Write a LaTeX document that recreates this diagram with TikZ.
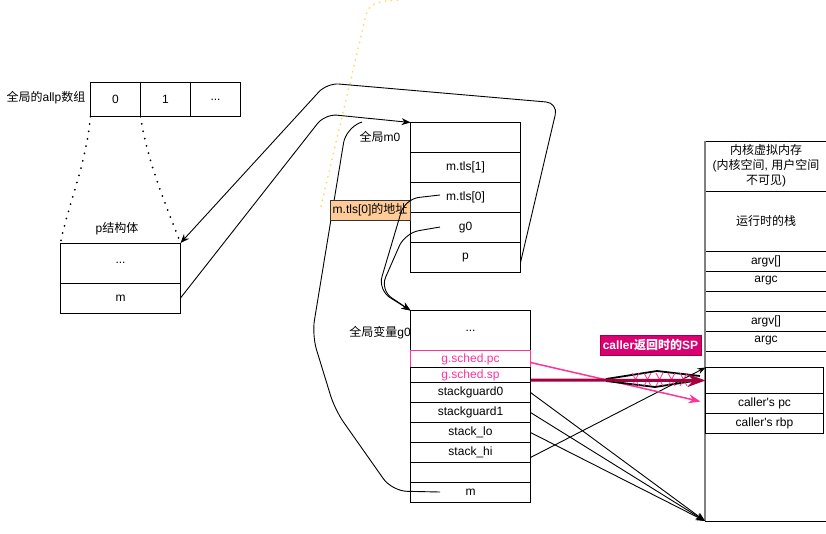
\documentclass[tikz,border=0pt]{standalone}
\usepackage{fontspec}
\setmainfont{Liberation Sans}[Ligatures=TeXOff]
\newfontfamily\cjk{Noto Sans CJK SC}
\usetikzlibrary{arrows.meta,calc}
\definecolor{pinkc}{HTML}{FF3399}
\definecolor{magc}{HTML}{D80073}
\definecolor{darkmag}{HTML}{A50040}
\definecolor{orangec}{HTML}{FFCC99}
\definecolor{yellowc}{HTML}{FFD966}
\newcommand\zh[1]{{\cjk #1}}
\begin{document}
\begin{tikzpicture}[x=1pt,y=-1pt,line width=1pt,
  every node/.style={font=\fontsize{12}{15}\selectfont},
  cellbox/.style={draw, anchor=north west, inner sep=0pt, outer sep=0pt},
  lbl/.style={inner sep=0pt},
  conn/.style={line width=0.9pt, rounded corners=12pt},
  tip/.style={-{Stealth[length=9pt,width=7pt]}},
  blkdot/.style={line width=2pt, line cap=round, dash pattern=on 0pt off 7.5pt},
  ylwdot/.style={yellowc, line width=2pt, line cap=round, dash pattern=on 0pt off 6pt},
]
\useasboundingbox (0,0) rectangle (826,533);
\clip (0,0) rectangle (826,533);

% allp array
\node[lbl] (allplbl) at (46,98) {\zh{全局的}allp\zh{数组}};
\node[cellbox, minimum width=50pt, minimum height=34pt] (a0) at (90.5,82.5) {0};
\node[cellbox, minimum width=50pt, minimum height=34pt] (a1) at (140.5,82.5) {1};
\node[cellbox, minimum width=50pt, minimum height=34pt] (a2) at (190.5,82.5) {...};

% p struct
\node[lbl] (plbl) at (117,229) {p\zh{结构体}};
\node[cellbox, minimum width=120pt, minimum height=40pt] (pdots) at (60.5,243) {...};
\node[cellbox, minimum width=120pt, minimum height=30pt] (pm) at (60.5,283) {m};

% m0
\node[lbl] (m0lbl) at (380,137) {\zh{全局}m0};
\node[cellbox, minimum width=110pt, minimum height=30pt] (m0a) at (410.5,122.5) {};
\node[cellbox, minimum width=110pt, minimum height=30pt] (m0tls1) at (410.5,152.5) {m.tls[1]};
\node[cellbox, minimum width=110pt, minimum height=30pt] (m0tls0) at (410.5,182.5) {m.tls[0]};
\node[cellbox, minimum width=110pt, minimum height=30pt] (m0g0) at (410.5,212.5) {g0};
\node[cellbox, minimum width=110pt, minimum height=30pt] (m0p) at (410.5,242.5) {p};

% g0
\node[lbl] (g0lbl) at (380,332.5) {\zh{全局变量}g0};
\node[cellbox, minimum width=120pt, minimum height=40pt] (g0a) at (410.5,310.5) {...};
\node[cellbox, draw=pinkc, text=pinkc, minimum width=120pt, minimum height=17pt] (gpc) at (410.5,350.5) {g.sched.pc};
\node[cellbox, text=pinkc, minimum width=120pt, minimum height=15pt] (gsp) at (410.5,367.5) {g.sched.sp};
\node[cellbox, minimum width=120pt, minimum height=20pt] (sg0) at (410.5,382.5) {stackguard0};
\node[cellbox, minimum width=120pt, minimum height=20pt] (sg1) at (410.5,402.5) {stackguard1};
\node[cellbox, minimum width=120pt, minimum height=20pt] (slo) at (410.5,422.5) {stack\_lo};
\node[cellbox, minimum width=120pt, minimum height=20pt] (shi) at (410.5,442.5) {stack\_hi};
\node[cellbox, minimum width=120pt, minimum height=20pt] (gemp) at (410.5,462.5) {};
\node[cellbox, minimum width=120pt, minimum height=20pt] (gm) at (410.5,482.5) {m};

% kernel stack
\node[cellbox, minimum width=122pt, minimum height=50pt, align=center] (hdr) at (705,141) {\zh{内核虚拟内存}\\(\zh{内核空间}, \zh{用户空间}\\\zh{不可见})};
\node[cellbox, minimum width=122pt, minimum height=60pt] (rt) at (705,191) {\zh{运行时的栈}};
\node[cellbox, minimum width=122pt, minimum height=20pt] (argv1) at (705,251) {argv[]};
\node[cellbox, minimum width=122pt, minimum height=20pt] (argc1) at (705,271) {argc};
\node[cellbox, minimum width=122pt, minimum height=20pt] (e1) at (705,291) {};
\node[cellbox, minimum width=122pt, minimum height=20pt] (argv2) at (705,311) {argv[]};
\node[cellbox, minimum width=122pt, minimum height=20pt] (argc2) at (705,331) {argc};
\node[cellbox, minimum width=122pt, minimum height=170pt] (rest) at (705,351) {};
\draw[gray, line width=1.4pt] (hdr.north west) -- (rest.south west);
\node[cellbox, minimum width=118pt, minimum height=26pt] (retbox) at (705.5,367.5) {};
\node[cellbox, minimum width=118pt, minimum height=20pt] (cpc) at (705.5,393.5) {caller's pc};
\node[cellbox, minimum width=118pt, minimum height=20pt] (crbp) at (705.5,413.5) {caller's rbp};

% connectors m0 / p / g0
\coordinate (gms) at (440,492);
\coordinate (gme) at (362,122);
\draw[conn, rounded corners=15pt] (gms) -- (392,491) -- (335,410) -- (312,335) -- (346,128) -- (gme);

\coordinate (ydot) at (321,206);
\coordinate (ytop) at (400,0);
\draw[ylwdot] (ydot) -- (366,15) .. controls (369,4) and (376,1) .. (ytop);

\node[fill=orangec, draw=black!80, line width=0.6pt, minimum width=80pt, minimum height=20pt, inner sep=0pt] (tlsaddr) at (370,210) {m.tls[0]\zh{的地址}};

\coordinate (tls0s) at (440,195);
\coordinate (g0s) at (440,227);
\draw[conn, rounded corners=14pt, tip] (tls0s) -- (405,199) -- (378,290) -- (g0a.north west);
\draw[conn, rounded corners=14pt, tip] (g0s) -- (405,233) -- (380,290) -- (g0a.north west);

\draw[conn, tip] ($(m0p.east)+(0,5)$) -- (558,103) -- (327,83) -- (pdots.north east);
\draw[conn, tip] (pm.east) -- (325,114) -- (m0a.north west);

\draw[blkdot] (a0.south west) .. controls (86,165) and (68,205) .. (pdots.north west);
\draw[blkdot] (a1.south west) .. controls (148,165) and (168,210) .. (pdots.north east);

% connectors g0 -> stack
\draw[line width=0.9pt, tip] (sg0.east) -- (rest.south west);
\draw[line width=0.9pt, tip] (sg1.east) -- (rest.south west);
\draw[line width=0.9pt, tip] (slo.east) -- (rest.south west);
\draw[line width=0.9pt, -{Stealth[length=8pt,width=6pt]}] ($(shi.east)+(0,5)$) -- (retbox.north west);

\draw[pinkc, line width=1.5pt, -{Stealth[length=12pt,width=9pt]}] ($(gpc.east)+(0,3.5)$) -- ($(cpc.west)+(-5,-2)$);

\draw[line width=1.8pt, line join=round] (606,379) -- (657,371) -- (700,376);
\draw[line width=1.8pt, line join=round] (606,381) -- (655,387) -- (700,380);
\foreach \x in {632,644,656,668,680} {
  \draw[pinkc, line width=0.8pt] (\x,373) -- (\x+7,386);
  \draw[pinkc, line width=0.8pt] (\x+7,373) -- (\x,386);
}
\draw[darkmag, line width=3pt, -{Stealth[length=18pt,width=13pt]}] ($(gsp.east)+(0,5)$) -- (retbox.west);

\node[fill=magc, draw=darkmag, line width=0.6pt, text=white, minimum width=101pt, minimum height=20pt, inner sep=0pt, font=\fontsize{12}{15}\selectfont\bfseries] (splbl) at (650.5,345) {caller\zh{返回时的}SP};
\end{tikzpicture}
\end{document}
